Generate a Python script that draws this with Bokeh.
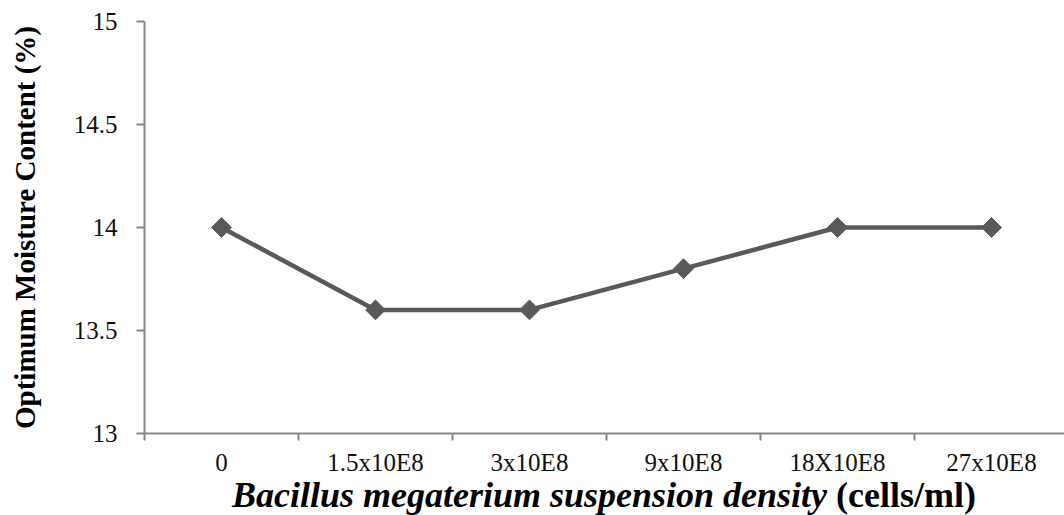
import math
from bokeh.plotting import figure
from bokeh.models import Range1d, FixedTicker, LinearAxis, Div
from bokeh.layouts import column
from bokeh.embed import file_html
from bokeh.resources import INLINE

categories = ["0", "1.5x10E8", "3x10E8", "9x10E8", "18X10E8", "27x10E8"]
moisture = [14.0, 13.6, 13.6, 13.8, 14.0, 14.0]
y_ticks = [13, 13.5, 14, 14.5, 15]
y_tick_labels = ["13", "13.5", "14", "14.5", "15"]

x_pos = [i + 0.5 for i in range(len(categories))]

FONT = "Liberation Serif"
AXIS_COLOR = "#868686"
LINE_COLOR = "#595959"

X_END = 5.974
p = figure(width=1064, height=478, output_backend="svg", toolbar_location=None,
           x_range=Range1d(0, X_END), y_range=Range1d(13, 15),
           x_axis_type=None, y_axis_type=None,
           min_border_left=144, min_border_right=0, min_border_top=21, min_border_bottom=44)
p.outline_line_color = None
p.xgrid.visible = False
p.ygrid.visible = False
p.background_fill_color = "white"
p.border_fill_color = "white"
p.margin = 0

# X axis: labels at category centres, ticks at category boundaries
xaxis = LinearAxis(ticker=FixedTicker(ticks=x_pos, minor_ticks=list(range(len(categories) + 1))))
xaxis.major_label_overrides = {x: c for x, c in zip(x_pos, categories)}
xaxis.major_tick_out = 0
xaxis.major_tick_in = 0
xaxis.minor_tick_out = 7
xaxis.minor_tick_in = 0
xaxis.minor_tick_line_color = AXIS_COLOR
xaxis.minor_tick_line_width = 2
xaxis.axis_line_color = AXIS_COLOR
xaxis.axis_line_width = 2
xaxis.major_label_text_font = FONT
xaxis.major_label_text_font_size = "25px"
xaxis.major_label_text_color = "#111111"
xaxis.major_label_standoff = 8
p.add_layout(xaxis, "below")

# Y axis
yaxis = LinearAxis(ticker=FixedTicker(ticks=y_ticks, minor_ticks=[]))
yaxis.major_label_overrides = {t: l for t, l in zip(y_ticks, y_tick_labels)}
yaxis.major_tick_out = 8
yaxis.major_tick_in = 0
yaxis.major_tick_line_color = AXIS_COLOR
yaxis.major_tick_line_width = 2
yaxis.axis_line_color = AXIS_COLOR
yaxis.axis_line_width = 2
yaxis.major_label_text_font = FONT
yaxis.major_label_text_font_size = "25px"
yaxis.major_label_text_color = "#111111"
yaxis.major_label_standoff = 19
yaxis.axis_label = "Optimum Moisture Content (%)"
yaxis.axis_label_text_font = FONT
yaxis.axis_label_text_font_size = "29px"
yaxis.axis_label_text_font_style = "bold"
yaxis.axis_label_text_color = "black"
yaxis.axis_label_standoff = 30
p.add_layout(yaxis, "left")

p.line(x_pos, moisture, line_color=LINE_COLOR, line_width=4.5)
p.scatter(x_pos, moisture, marker="square", size=14, angle=math.pi / 4,
          fill_color=LINE_COLOR, line_color=LINE_COLOR)

# X axis title (italic species name + plain unit), as HTML text under the plot
x_title_italic = "Bacillus megaterium suspension density"
x_title_unit = "(cells/ml)"
title_html = (
    '<div style="width:920px;margin-left:144px;text-align:center;'
    "font-family:'Liberation Serif';font-size:36px;line-height:34px;"
    'font-weight:bold;color:black;white-space:nowrap;">'
    f"<i>{x_title_italic}</i> {x_title_unit}</div>"
)
div = Div(text=title_html, width=1064, height=37, margin=0)

layout = column(p, div, spacing=0, margin=0)
open("out.html", "w").write(file_html(layout, INLINE))
